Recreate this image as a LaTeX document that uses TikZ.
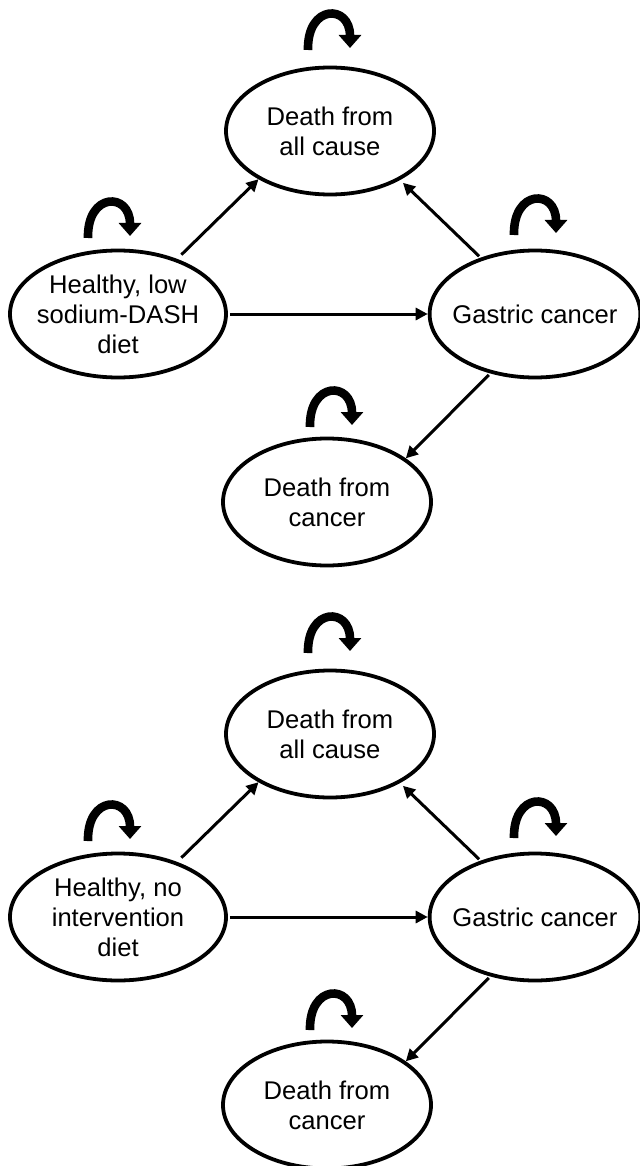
\documentclass[tikz,border=0pt]{standalone}
\usepackage{fontspec}
\setmainfont{Liberation Sans}
\usetikzlibrary{shapes.geometric,arrows.meta}
\tikzset{self loop/.pic={\draw[line width=4.3pt,-{Triangle[length=6.5pt,width=11pt]}] (-21,0) .. controls (-22,-46) and (21,-46) .. (21,-2);}}
\begin{document}
\begin{tikzpicture}[x=0.5pt,y=-0.5pt,
  state/.style={ellipse,draw,line width=1.9pt,minimum width=104pt,minimum height=63.5pt,inner xsep=-4pt,inner ysep=0pt,align=center,font=\fontsize{12.8}{15}\selectfont},
  healthy/.style={state,inner xsep=-2.8pt,minimum width=108pt},
  flow/.style={->,line width=1.5pt,>={Triangle[length=6pt,width=6pt]}}]
\useasboundingbox (0,0) rectangle (639,1166);
% low sodium-DASH diet
\node [state](dall1) at (330,131) {Death from\\all cause};
\node [healthy](hlth1) at (118,314) {Healthy, low\\sodium-DASH\\diet};
\node [state](gc1) at (535,314) {Gastric cancer};
\node [state](dca1) at (327,502) {Death from\\cancer};
\pic at (329,50) {self loop};
\pic at (109,238) {self loop};
\pic at (535,235) {self loop};
\pic at (331,427) {self loop};
\path [flow]
	(hlth1.43) edge[shorten <=3pt] (dall1.214)
	(hlth1.east) edge[shorten <=1pt] (gc1.west)
	(gc1.134) edge[shorten <=1pt,shorten >=2pt] (dall1.-35)
	(gc1.233) edge[shorten <=1pt] (dca1.29)
	;
% no intervention diet
\node [state](dall2) at (330,734) {Death from\\all cause};
\node [healthy](hlth2) at (118,917) {Healthy, no\\intervention\\diet};
\node [state](gc2) at (535,917) {Gastric cancer};
\node [state](dca2) at (327,1105) {Death from\\cancer};
\pic at (329,653) {self loop};
\pic at (109,841) {self loop};
\pic at (535,838) {self loop};
\pic at (331,1030) {self loop};
\path [flow]
	(hlth2.43) edge[shorten <=3pt] (dall2.214)
	(hlth2.east) edge[shorten <=1pt] (gc2.west)
	(gc2.134) edge[shorten <=1pt,shorten >=2pt] (dall2.-35)
	(gc2.233) edge[shorten <=1pt] (dca2.29)
	;
\end{tikzpicture}
\end{document}
